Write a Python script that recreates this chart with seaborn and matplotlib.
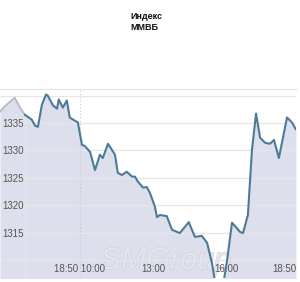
import matplotlib
matplotlib.use("Agg")
import matplotlib.pyplot as plt
import matplotlib.patheffects as pe
import seaborn as sns
import pandas as pd

title = "Индекс\nММВБ"

# previous-session (grey) segment: minutes relative to 18:50 close / 10:00 open
prev_minutes = [-196, -182, -160, -147, -135]
prev_values = [1337.1, 1338.2, 1339.6, 1337.8, 1336.5]

minutes = [-135, -118, -110, -103, -93, -83, -79, -66, -56, -52, -42, -32, -25, -12, -5,
           5, 12, 25, 37, 49, 56, 69, 86, 93, 103, 115, 128, 135, 142, 155, 164, 172,
           184, 189, 196, 213, 226, 245, 267, 282, 299, 312, 324, 331, 353, 361, 373,
           393, 400, 412, 422, 432, 442, 454, 466, 476, 488, 508, 520, 530]
values = [1336.5, 1335.6, 1334.5, 1334.3, 1338.4, 1340.2, 1340.0, 1338.2, 1337.6, 1339.3,
          1337.8, 1339.1, 1336.0, 1335.4, 1335.1,
          1331.0, 1330.8, 1329.7, 1326.4, 1329.2, 1328.6, 1331.2, 1329.2, 1325.9, 1325.5,
          1326.1, 1325.2, 1325.2, 1324.3, 1323.2, 1323.3, 1322.2,
          1319.7, 1317.8, 1318.2, 1318.0, 1315.5, 1314.9, 1316.9, 1314.2, 1314.4, 1313.1,
          1309.4, 1306.2, 1306.2, 1309.9, 1316.8,
          1315.1, 1314.9, 1318.2, 1330.1, 1336.7, 1332.3, 1331.4, 1331.2, 1331.9, 1328.6,
          1336.0, 1335.1, 1333.8]

xtick_pos = [0, 180, 360, 530]
xtick_labels = ["18:50 10:00", "13:00", "16:00", "18:50"]
ytick_vals = [1310, 1315, 1320, 1325, 1330, 1335, 1340]
ytick_labels = ["", "1315", "1320", "1325", "1330", "1335", ""]

sns.set_style("white")
plt.rcParams['font.family'] = ['Liberation Sans', 'DejaVu Sans']

fig = plt.figure(figsize=(3.0, 2.82), dpi=100)
ax = fig.add_axes([0.0, 4 / 282, 296 / 300, (278 - 89) / 282])

ymin, ymax = 1306.7, 1341.2
fill_col = "#dde0ec"

prev_df = pd.DataFrame({"m": prev_minutes, "v": prev_values})
df = pd.DataFrame({"m": minutes, "v": values})

ax.fill_between(prev_df["m"], prev_df["v"], ymin - 5, color=fill_col, lw=0, zorder=1)
ax.fill_between(df["m"], df["v"], ymin - 5, color=fill_col, lw=0, zorder=1)
sns.lineplot(data=prev_df, x="m", y="v", ax=ax, color="#b7bac8", lw=1.4, zorder=3)
sns.lineplot(data=df, x="m", y="v", ax=ax, color="#4d7a98", lw=1.5, zorder=4)

ax.axvline(0, color="#c8c8c8", lw=0.8, ls=(0, (1, 2)), zorder=2)

ax.set_xlim(-196, 530)
ax.set_ylim(ymin, ymax)
ax.set_yticks(ytick_vals)
ax.set_yticklabels(ytick_labels)
ax.set_xticks(xtick_pos)
ax.set_xticklabels(xtick_labels)
ax.yaxis.grid(True, color="#e6e6e6", lw=0.9)
ax.set_axisbelow(False)
ax.set_xlabel("")
ax.set_ylabel("")

ax.tick_params(axis="y", length=0, pad=-1.5, labelsize=7, labelcolor="#555555")
for lbl in ax.get_yticklabels():
    lbl.set_horizontalalignment("left")
ax.tick_params(axis="x", length=0, pad=-10, labelsize=7, labelcolor="#555555")
xl = ax.get_xticklabels()
xl[-1].set_horizontalalignment("right")

for s in ["left", "bottom", "right"]:
    ax.spines[s].set_visible(False)
ax.spines["top"].set_color("#e4e4e4")
ax.spines["top"].set_linewidth(0.8)

ax.text(0.56, 0.09, "SMGroup", transform=ax.transAxes, ha="center", va="center",
        fontsize=22, style="italic", color="#e6e8f0", alpha=0.85, zorder=2.2,
        path_effects=[pe.withStroke(linewidth=0.9, foreground="#cdd0d6")])

fig.text(130 / 300, 1 - 12 / 282, title, ha="left", va="top", fontsize=6.5,
         fontweight="bold", color="#111111", linespacing=1.25)

fig.savefig("out.png", dpi=100)
